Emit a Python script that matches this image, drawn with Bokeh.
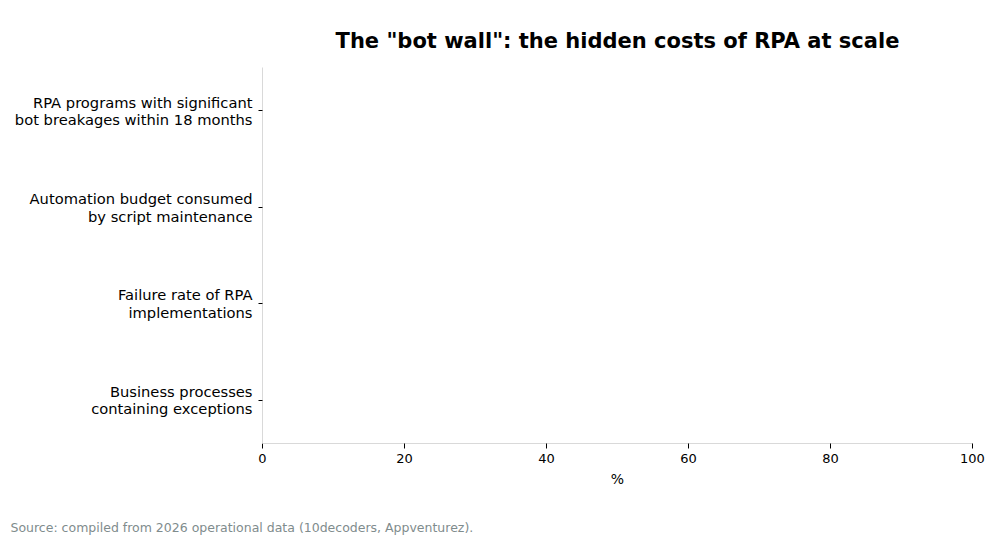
from bokeh.plotting import figure
from bokeh.models import Range1d, FactorRange, Title
from bokeh.embed import file_html
from bokeh.resources import INLINE

# categories, bottom to top as drawn
categories = [
	"Business processes\ncontaining exceptions",
	"Failure rate of RPA\nimplementations",
	"Automation budget consumed\nby script maintenance",
	"RPA programs with significant\nbot breakages within 18 months",
]
x_ticks = [0, 20, 40, 60, 80, 100]

title = 'The "bot wall": the hidden costs of RPA at scale'
source = "Source: compiled from 2026 operational data (10decoders, Appventurez)."

p = figure(frame_width=710, frame_height=376,
	y_range=FactorRange(factors=categories, range_padding=-0.05, range_padding_units="absolute"),
	x_range=Range1d(x_ticks[0], x_ticks[-1]), output_backend="svg",
	toolbar_location=None, x_axis_label="%")

p.title.text = title
p.title.align = "center"
p.title.text_font = "DejaVu Sans"
p.title.text_font_size = "21px"
p.title.text_font_style = "bold"
p.title.text_color = "black"
p.title.offset = 0
p.title.standoff = 30

p.add_layout(Title(text=source, align="left", offset=-252, standoff=57,
	text_font="DejaVu Sans", text_font_size="12.5px", text_font_style="normal",
	text_color="#7f8c8d"), "below")

p.min_border_left = 262
p.min_border_right = 20
p.min_border_top = 67
p.min_border_bottom = 95
p.outline_line_color = None
p.xgrid.grid_line_color = None
p.ygrid.grid_line_color = None

p.xaxis.ticker = x_ticks
for ax in (p.xaxis[0], p.yaxis[0]):
	ax.axis_line_color = "#d9d9d9"
	ax.major_tick_line_color = "black"
	ax.minor_tick_line_color = None
	ax.major_label_text_font = "DejaVu Sans"
	ax.major_label_text_color = "black"

p.xaxis.major_tick_out = 5
p.xaxis.major_tick_in = 0
p.xaxis.major_label_text_font_size = "13px"
p.xaxis.axis_label_text_font = "DejaVu Sans"
p.xaxis.axis_label_text_font_size = "14px"
p.xaxis.axis_label_text_font_style = "normal"
p.xaxis.axis_label_text_color = "black"
p.yaxis.major_tick_out = 4
p.yaxis.major_tick_in = 0
p.yaxis.major_label_text_font_size = "14.7px"
p.yaxis.major_label_text_line_height = 1.04
p.yaxis.major_label_standoff = 6

open("out.html", "w").write(file_html(p, INLINE))
